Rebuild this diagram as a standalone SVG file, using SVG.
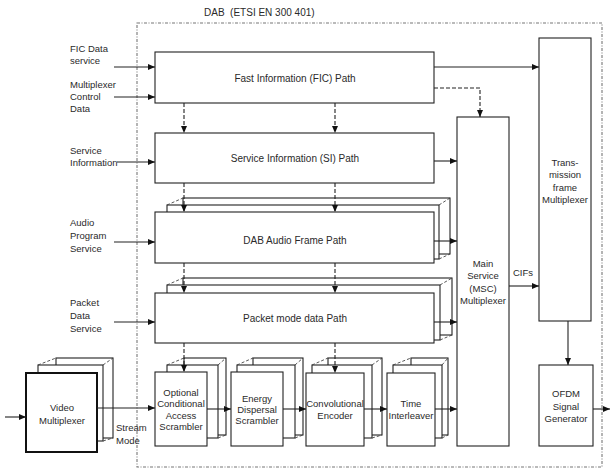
<svg xmlns="http://www.w3.org/2000/svg" width="610" height="470" viewBox="0 0 610 470">
<style>
text{font-family:"Liberation Sans",Arial,sans-serif;font-size:9.5px;fill:#2a2a2a}
.c{text-anchor:middle}
.b{fill:#fff;stroke:#222;stroke-width:1.1}
.bt{fill:#fff;stroke:#111;stroke-width:2}
.sd{fill:none;stroke:#444;stroke-width:0.9;stroke-dasharray:3,2}
.ln{fill:none;stroke:#222;stroke-width:1.1;marker-end:url(#ah)}
.dl{fill:none;stroke:#222;stroke-width:1.1;stroke-dasharray:4,2}
.da{fill:none;stroke:#222;stroke-width:1.1;stroke-dasharray:4,2;marker-end:url(#ah)}
.plain{fill:none;stroke:#222;stroke-width:1.1}
.border{fill:none;stroke:#777;stroke-width:1.1;stroke-dasharray:3,1.5,1,1.5}
</style>
<defs>
<marker id="ah" markerUnits="userSpaceOnUse" markerWidth="7" markerHeight="6" refX="7" refY="3" orient="auto">
<path d="M0,0 L7,3 L0,6 z" fill="#111"/>
</marker>
</defs>
<rect width="610" height="470" fill="#fff"/>

<g id="dab-border">
<rect class="border" x="137" y="23" width="465" height="444"/>
<text x="204" y="16" style="white-space:pre;font-size:10px">DAB  (ETSI EN 300 401)</text>
</g>

<g id="inputs">
<text x="70" y="52">FIC Data</text>
<text x="70" y="64">service</text>
<text x="70" y="88">Multiplexer</text>
<text x="70" y="100">Control</text>
<text x="70" y="112">Data</text>
<text x="70" y="154">Service</text>
<text x="70" y="166">Information</text>
<text x="70" y="226">Audio</text>
<text x="70" y="239">Program</text>
<text x="70" y="252">Service</text>
<text x="70" y="306">Packet</text>
<text x="70" y="319">Data</text>
<text x="70" y="332">Service</text>
</g>

<g id="fic">
<rect class="b" x="155" y="52" width="279" height="51"/>
<text class="c" x="295" y="82" style="font-size:10px">Fast Information (FIC) Path</text>
</g>

<g id="si">
<rect class="b" x="155" y="133" width="279" height="50"/>
<text class="c" x="295" y="162" style="font-size:10px">Service Information (SI) Path</text>
</g>

<g id="audio">
<rect class="b" x="183" y="198" width="267" height="56"/>
<rect class="b" x="167" y="205" width="272" height="54"/>
<path class="sd" d="M167,205 L183,198 M439,205 L450,198 M439,259 L450,254"/>
<rect class="b" x="155" y="212" width="279" height="51"/>
<text class="c" x="295" y="244" style="font-size:10px">DAB Audio Frame Path</text>
</g>

<g id="packet">
<rect class="b" x="183" y="278" width="269" height="57"/>
<rect class="b" x="167" y="285" width="273" height="55"/>
<path class="sd" d="M167,285 L183,278 M440,285 L452,278 M440,340 L452,335"/>
<rect class="b" x="155" y="293" width="279" height="50"/>
<text class="c" x="295" y="322" style="font-size:10px">Packet mode data Path</text>
</g>

<g id="msc">
<rect class="b" x="457" y="117" width="52" height="329"/>
<text class="c" x="483" y="267">Main</text>
<text class="c" x="483" y="279">Service</text>
<text class="c" x="483" y="292">(MSC)</text>
<text class="c" x="483" y="304">Multiplexer</text>
</g>

<g id="tfm">
<rect class="b" x="539" y="38" width="52" height="283"/>
<text class="c" x="565" y="166">Trans-</text>
<text class="c" x="565" y="178">mission</text>
<text class="c" x="565" y="191">frame</text>
<text class="c" x="565" y="203">Multiplexer</text>
</g>

<g id="ofdm">
<rect class="b" x="539" y="365" width="54" height="81"/>
<text class="c" x="566" y="397">OFDM</text>
<text class="c" x="566" y="410">Signal</text>
<text class="c" x="566" y="422">Generator</text>
</g>

<g id="video">
<rect class="b" x="56" y="358" width="57" height="80"/>
<rect class="b" x="38" y="365" width="65" height="76"/>
<path class="sd" d="M38,365 L56,358 M103,365 L113,358 M103,441 L113,438"/>
<rect class="bt" x="26" y="373" width="71" height="79"/>
<text class="c" x="62" y="411">Video</text>
<text class="c" x="62" y="424">Multiplexer</text>
</g>

<g id="oca">
<rect class="b" x="184" y="358" width="42" height="77"/>
<rect class="b" x="167" y="365" width="51" height="73"/>
<path class="sd" d="M167,365 L184,358 M218,365 L226,358 M218,438 L226,435"/>
<rect class="b" x="155" y="372" width="52" height="74"/>
<text class="c" x="181" y="396">Optional</text>
<text class="c" x="181" y="407">Conditional</text>
<text class="c" x="181" y="419">Access</text>
<text class="c" x="181" y="430">Scrambler</text>
</g>

<g id="energy">
<rect class="b" x="253" y="358" width="50" height="77"/>
<rect class="b" x="237" y="365" width="58" height="73"/>
<path class="sd" d="M237,365 L253,358 M295,365 L303,358 M295,438 L303,435"/>
<rect class="b" x="231" y="372" width="52" height="74"/>
<text class="c" x="257" y="402">Energy</text>
<text class="c" x="257" y="413">Dispersal</text>
<text class="c" x="257" y="424">Scrambler</text>
</g>

<g id="conv">
<rect class="b" x="328" y="358" width="54" height="77"/>
<rect class="b" x="312" y="365" width="60" height="73"/>
<path class="sd" d="M312,365 L328,358 M372,365 L382,358 M372,438 L382,435"/>
<rect class="b" x="306" y="373" width="58" height="73"/>
<text class="c" x="335" y="407">Convolutional</text>
<text class="c" x="335" y="419">Encoder</text>
</g>

<g id="time">
<rect class="b" x="411" y="358" width="37" height="77"/>
<rect class="b" x="393" y="365" width="49" height="73"/>
<path class="sd" d="M393,365 L411,358 M442,365 L448,358 M442,438 L448,435"/>
<rect class="b" x="387" y="373" width="48" height="73"/>
<text class="c" x="411" y="407">Time</text>
<text class="c" x="411" y="419">Interleaver</text>
</g>

<g id="labels">
<text x="116" y="431">Stream</text>
<text x="116" y="444">Mode</text>
<text x="513" y="276">CIFs</text>
</g>

<g id="connectors">
<path class="ln" d="M114,67 L155,67"/>
<path class="ln" d="M114,97 L155,97"/>
<path class="ln" d="M117,162 L155,162"/>
<path class="ln" d="M114,242 L155,242"/>
<path class="ln" d="M114,322 L155,322"/>
<path class="da" d="M184,103 L184,133"/>
<path class="da" d="M335,103 L335,133"/>
<path class="da" d="M184,183 L184,212"/>
<path class="da" d="M335,183 L335,212"/>
<path class="da" d="M184,263 L184,293"/>
<path class="da" d="M335,263 L335,293"/>
<path class="da" d="M184,343 L184,372"/>
<path class="da" d="M335,343 L335,373"/>
<path class="ln" d="M434,67 L539,67"/>
<path class="da" d="M434,88 L480,88 L480,117"/>
<path class="ln" d="M434,161 L457,161"/>
<path class="ln" d="M434,241 L457,241"/>
<path class="ln" d="M434,322 L457,322"/>
<path class="ln" d="M509,286 L539,286"/>
<path class="ln" d="M568,321 L568,365"/>
<path class="ln" d="M593,409 L610,409"/>
<path class="ln" d="M5,417 L26,417"/>
<path class="ln" d="M97,408 L155,408"/>
<path class="ln" d="M207,409 L231,409"/>
<path class="ln" d="M283,409 L306,409"/>
<path class="ln" d="M364,409 L387,409"/>
<path class="ln" d="M435,409 L457,409"/>
</g>
</svg>
